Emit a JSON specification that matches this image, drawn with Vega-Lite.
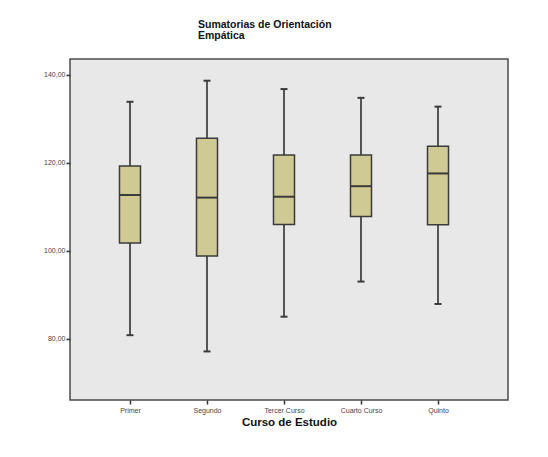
{
  "$schema": "https://vega.github.io/schema/vega-lite/v6.json",
  "width": 438,
  "height": 341,
  "autosize": {"type": "none"},
  "padding": {"left": 70, "top": 59, "right": 40, "bottom": 57},
  "background": "white",
  "title": {
    "text": ["Sumatorias de Orientación", "Empática"],
    "anchor": "start",
    "frame": "group",
    "dx": 128,
    "offset": 18,
    "font": "Liberation Sans",
    "fontSize": 10.5,
    "fontWeight": "bold",
    "color": "#111111",
    "lineHeight": 11
  },
  "data": {
    "values": [
      {"curso": "Primer", "min": 80.8, "q1": 101.8, "median": 112.7, "q3": 119.3, "max": 133.9},
      {"curso": "Segundo", "min": 77.1, "q1": 98.8, "median": 112.1, "q3": 125.6, "max": 138.7},
      {"curso": "Tercer Curso", "min": 85.0, "q1": 106.0, "median": 112.3, "q3": 121.8, "max": 136.8},
      {"curso": "Cuarto Curso", "min": 93.0, "q1": 107.8, "median": 114.7, "q3": 121.8, "max": 134.8},
      {"curso": "Quinto", "min": 87.9, "q1": 105.9, "median": 117.6, "q3": 123.8, "max": 132.8}
    ]
  },
  "encoding": {
    "x": {
      "field": "curso",
      "type": "nominal",
      "sort": ["Primer", "Segundo", "Tercer Curso", "Cuarto Curso", "Quinto"],
      "scale": {"type": "point", "padding": 0.844, "align": 0.4615},
      "axis": {
        "title": "Curso de Estudio",
        "titleFont": "Liberation Sans",
        "titleFontSize": 11.5,
        "titleFontWeight": "bold",
        "titleColor": "#111111",
        "titlePadding": 3,
        "labelFont": "Liberation Sans",
        "labelFontSize": 7,
        "labelColor": "#444444",
        "labelAngle": 0,
        "labelPadding": 2,
        "tickSize": 4,
        "tickColor": "#333333",
        "tickWidth": 1.5,
        "domain": false,
        "grid": false
      }
    }
  },
  "layer": [
    {
      "mark": {"type": "rule", "stroke": "#555555", "strokeWidth": 2},
      "encoding": {
        "y": {
          "field": "min",
          "type": "quantitative",
          "scale": {"domain": [66.05, 143.64], "nice": false, "zero": false},
          "axis": {
            "title": null,
            "values": [80, 100, 120, 140],
            "labelExpr": "replace(format(datum.value, '.2f'), '.', ',')",
            "labelFont": "Liberation Sans",
            "labelFontSize": 7,
            "labelColor": "#444444",
            "labelPadding": 1,
            "tickSize": 4,
            "tickColor": "#333333",
            "tickWidth": 1.5,
            "domain": false,
            "grid": false
          }
        },
        "y2": {"field": "max"}
      }
    },
    {
      "mark": {"type": "bar", "size": 21, "fill": "#cfc993", "stroke": "#3b3b3b", "strokeWidth": 1.5},
      "encoding": {
        "y": {"field": "q1", "type": "quantitative"},
        "y2": {"field": "q3"}
      }
    },
    {
      "mark": {"type": "tick", "size": 21, "thickness": 2, "color": "#3b3b3b", "opacity": 1},
      "encoding": {"y": {"field": "median", "type": "quantitative"}}
    },
    {
      "mark": {"type": "tick", "size": 7, "thickness": 2, "color": "#3b3b3b", "opacity": 1},
      "encoding": {"y": {"field": "min", "type": "quantitative"}}
    },
    {
      "mark": {"type": "tick", "size": 7, "thickness": 2, "color": "#3b3b3b", "opacity": 1},
      "encoding": {"y": {"field": "max", "type": "quantitative"}}
    }
  ],
  "config": {
    "view": {"fill": "#e8e8e8", "stroke": "#4a4a4a", "strokeWidth": 1.5}
  }
}
